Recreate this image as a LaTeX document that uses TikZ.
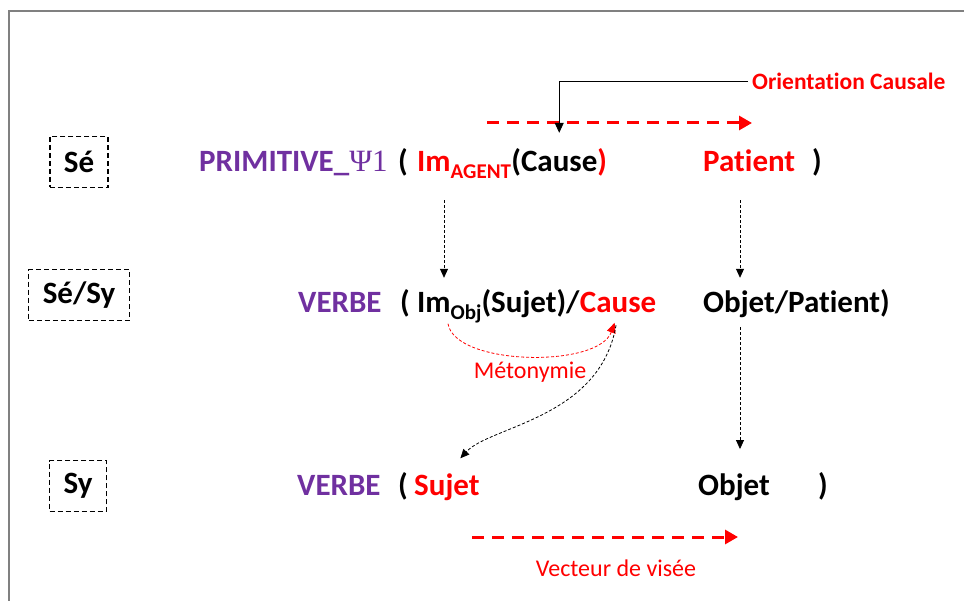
\documentclass[tikz,border=0pt]{standalone}
\usepackage{fontspec}
\setmainfont[Ligatures=NoCommon]{Carlito}
\newfontfamily\psifont{Liberation Serif}
\usetikzlibrary{arrows.meta,positioning,calc}
\definecolor{violet1}{HTML}{7030A0}
\definecolor{rouge}{HTML}{FF0000}
\newcommand{\lowtxt}[1]{\raisebox{-7pt}{\fontsize{21}{21}\selectfont #1}}

\begin{document}
\begin{tikzpicture}[
  x=1pt,y=-1pt,
  every node/.style={inner sep=0pt,anchor=base west,font=\fontsize{31}{37}\selectfont\bfseries},
  level/.style={draw,dash pattern=on 5pt off 3pt,line width=1.3pt,anchor=center,minimum height=51pt,inner xsep=14pt},
  prim/.style={text=violet1},
  hot/.style={text=rouge},
  small/.style={font=\fontsize{24}{28}\selectfont,text=rouge,anchor=center},
  vlink/.style={-{Triangle[length=9pt,width=8pt]},dash pattern=on 3pt off 2pt,line width=0.8pt},
  vect/.style={-{Triangle[length=13pt,width=14pt]},rouge,dash pattern=on 12pt off 8pt,line width=3pt},
  meto/.style={-{Triangle[length=10pt,width=9pt]},rouge,dash pattern=on 3pt off 2pt,line width=0.8pt}
]
\useasboundingbox (0,0) rectangle (964,601);
\draw[gray,line width=1.5pt] (964,11) -- (9,11) -- (9,601);

% niveaux
\node[level] (se) at (79,162) {Sé};
\node[level] (sesy) at (79,295) {Sé/Sy};
\node[level] (sy) at (78,486) {Sy};

% ligne Sé
\node[prim] (prm) at (199,172) {PRIMITIVE\_{\psifont\mdseries Ψ1}};
\node (lp1) at (398,172) {(};
\node[hot] (imA) at (417,172) {Im\lowtxt{AGENT}};
\node (causeA) at (imA.base east) {(Cause\textcolor{rouge}{)}};
\node[hot] (patA) at (703,172) {Patient};
\node (rp1) at (812,172) {)};

% ligne Sé/Sy
\node[prim] (verb2) at (298,313) {VERBE};
\node (lp2) at (400,313) {(};
\node (imO) at (417,313) {Im\lowtxt{Obj}(Sujet)/};
\node[hot] (causeB) at (imO.base east) {Cause};
\node (objpat) at (703,313) {Objet/Patient)};

% ligne Sy
\node[prim] (verb3) at (297,495) {VERBE};
\node (lp3) at (398,495) {(};
\node[hot] (sujet) at (414,495) {Sujet};
\node (objet) at (698,495) {Objet};
\node (rp3) at (818,495) {)};

% vecteurs
\node[hot,font=\fontsize{23.5}{27}\selectfont\bfseries] (orient) at (752,90) {Orientation Causale};
\coordinate (o1) at (487,123);
\coordinate (o2) at (752,123);
\draw[vect] (o1) -- (o2);
\draw[-{Triangle[length=10pt,width=9pt]},line width=0.8pt,shorten <=4pt,shorten >=16pt] (orient.west) -| (causeA.north);

\coordinate (w1) at (472,537);
\coordinate (w2) at (738,537);
\draw[vect] (w1) -- (w2);
\node[small] (visee) at (616,568) {Vecteur de visée};

% liens verticaux
\draw[vlink,shorten <=21pt,shorten >=12pt] ([xshift=27pt]imA.south west) -- ([xshift=27pt]imO.north west);
\draw[vlink,shorten <=28pt,shorten >=12pt] ([xshift=37pt]patA.south west) -- ([xshift=37pt]objpat.north west);
\draw[vlink,shorten <=9pt,shorten >=24pt] ([xshift=37pt]objpat.south west) -- ([xshift=37pt]objpat.south west |- objet.north);

% metonymie
\draw[meto,shorten >=10pt] ([xshift=31pt]imO.south west) .. controls +(7,42) and +(-20,55) .. (causeB.south);
\node[small] (meto) at (530,372) {Métonymie};
\draw[vlink,shorten <=12pt,shorten >=20pt] (causeB.south) .. controls +(-18,105) and +(43,-47) .. (sujet.north);
\end{tikzpicture}
\end{document}
